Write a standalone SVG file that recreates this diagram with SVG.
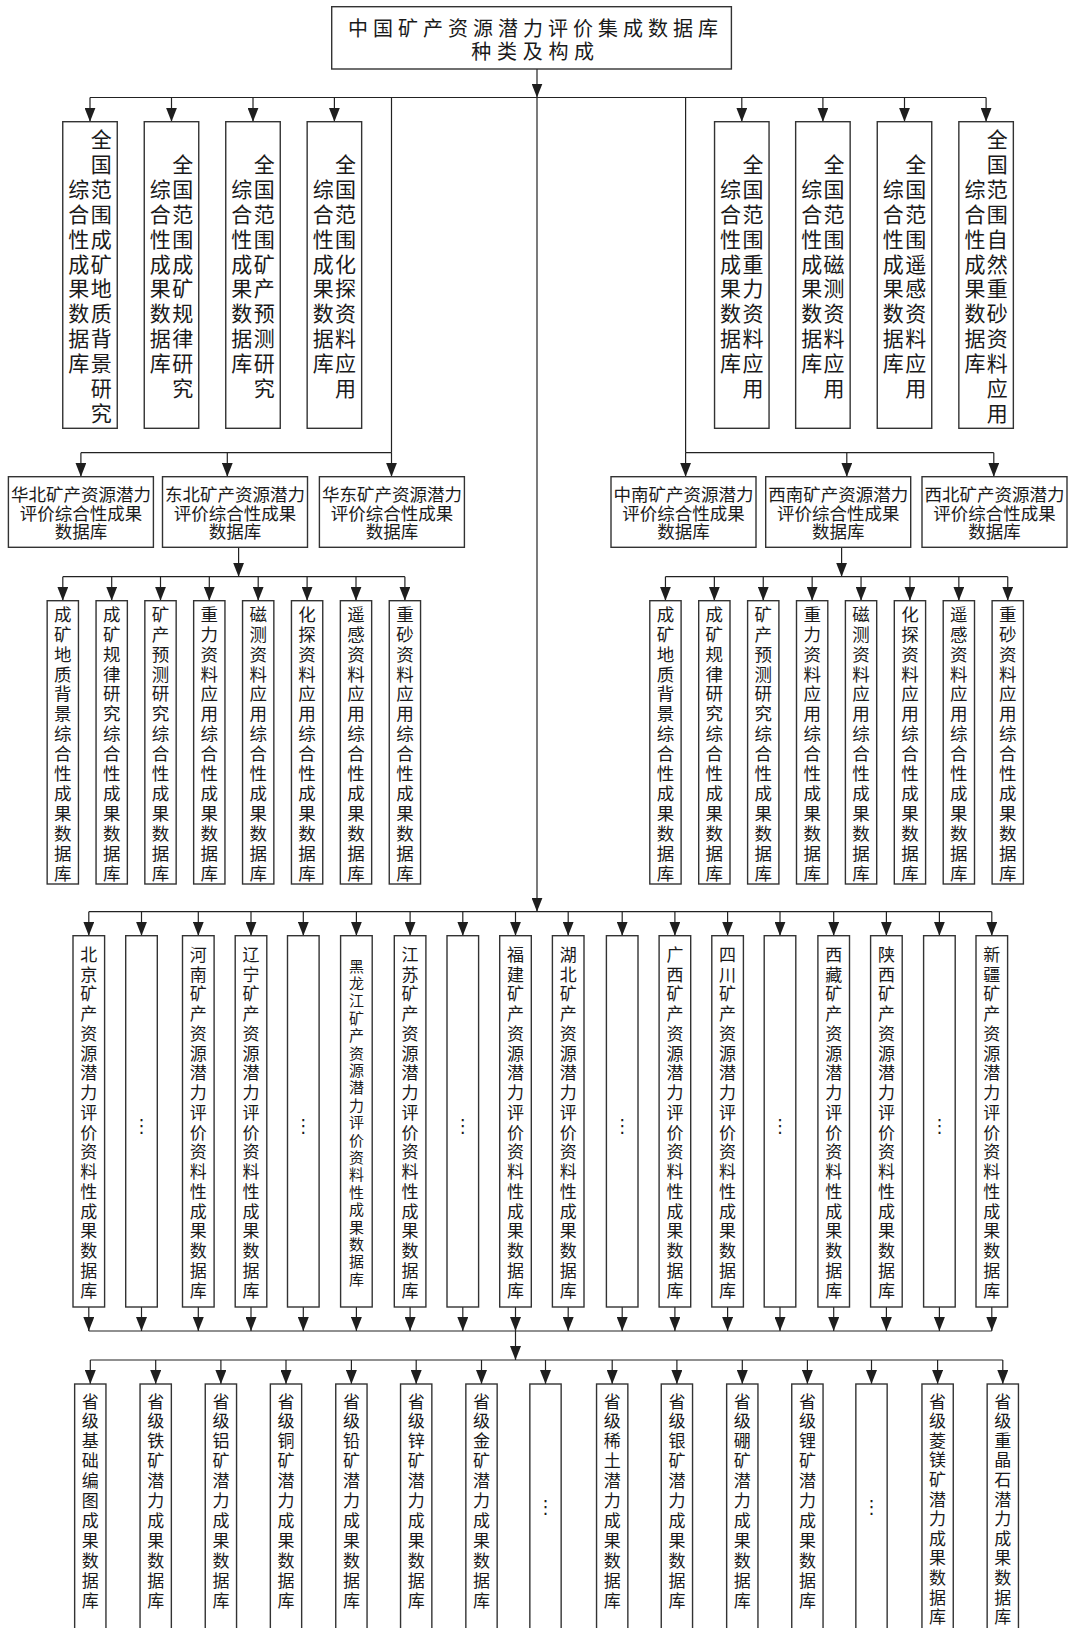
<svg xmlns="http://www.w3.org/2000/svg" width="1070" height="1628" viewBox="0 0 1070 1628">
<defs>
<marker id="ah" markerUnits="userSpaceOnUse" markerWidth="14" markerHeight="11" viewBox="0 0 14 11" refX="14" refY="5.5" orient="auto"><path d="M0,0 L14,5.5 L0,11 z" fill="#1e1e1e"/></marker>
<style>
.box{fill:#fff;stroke:#333;stroke-width:1.4}
.ln{fill:none;stroke:#222;stroke-width:1.2}
.ar{marker-end:url(#ah)}
text{font-family:"Noto Sans CJK SC","Noto Sans CJK JP",sans-serif;fill:#1a1a1a;text-anchor:middle;dominant-baseline:central}
.t0{font-size:20px}
.t1{font-size:21px}
.t2{font-size:17.5px}
.t3{font-size:17px}
.t4{font-size:15px}
.dots{font-family:"DejaVu Sans",sans-serif;font-size:18px}
</style>
</defs>
<rect width="1070" height="1628" fill="#fff"/>

<g id="connectors">
<path class="ln ar" d="M537,69V97.5"/>
<path class="ln" d="M90,97.5H986.1"/>
<path class="ln ar" d="M90,97.5V121.7"/>
<path class="ln ar" d="M171.5,97.5V121.7"/>
<path class="ln ar" d="M253,97.5V121.7"/>
<path class="ln ar" d="M334.4,97.5V121.7"/>
<path class="ln ar" d="M741.8,97.5V121.7"/>
<path class="ln ar" d="M822.9,97.5V121.7"/>
<path class="ln ar" d="M904.5,97.5V121.7"/>
<path class="ln ar" d="M986.1,97.5V121.7"/>
<path class="ln ar" d="M537,97.5V911.7"/>
<path class="ln" d="M391.5,97.5V452.7"/>
<path class="ln" d="M685.6,97.5V452.7"/>
<path class="ln" d="M80.9,452.7H391.5"/>
<path class="ln ar" d="M80.9,452.7V476.7"/>
<path class="ln ar" d="M227.3,452.7V476.7"/>
<path class="ln ar" d="M391.5,452.7V476.7"/>
<path class="ln" d="M685.6,452.7H993.8"/>
<path class="ln ar" d="M685.6,452.7V476.7"/>
<path class="ln ar" d="M846.8,452.7V476.7"/>
<path class="ln ar" d="M993.8,452.7V476.7"/>
<path class="ln ar" d="M238.6,547.3V576.7"/>
<path class="ln" d="M62.8,576.7H404.9"/>
<path class="ln ar" d="M62.8,576.7V600.7"/>
<path class="ln ar" d="M111.7,576.7V600.7"/>
<path class="ln ar" d="M160.5,576.7V600.7"/>
<path class="ln ar" d="M209.3,576.7V600.7"/>
<path class="ln ar" d="M258.2,576.7V600.7"/>
<path class="ln ar" d="M307.1,576.7V600.7"/>
<path class="ln ar" d="M356,576.7V600.7"/>
<path class="ln ar" d="M404.9,576.7V600.7"/>
<path class="ln ar" d="M841.6,547.3V576.7"/>
<path class="ln" d="M665.45,576.7H1007.75"/>
<path class="ln ar" d="M665.45,576.7V600.7"/>
<path class="ln ar" d="M714.35,576.7V600.7"/>
<path class="ln ar" d="M763.25,576.7V600.7"/>
<path class="ln ar" d="M812.15,576.7V600.7"/>
<path class="ln ar" d="M861.05,576.7V600.7"/>
<path class="ln ar" d="M909.95,576.7V600.7"/>
<path class="ln ar" d="M958.85,576.7V600.7"/>
<path class="ln ar" d="M1007.75,576.7V600.7"/>
<path class="ln" d="M88.8,911.7H991.8"/>
<path class="ln ar" d="M88.8,911.7V935.7"/>
<path class="ln ar" d="M141.5,911.7V935.7"/>
<path class="ln ar" d="M198.3,911.7V935.7"/>
<path class="ln ar" d="M251,911.7V935.7"/>
<path class="ln ar" d="M303.3,911.7V935.7"/>
<path class="ln ar" d="M356.4,911.7V935.7"/>
<path class="ln ar" d="M410.1,911.7V935.7"/>
<path class="ln ar" d="M462.8,911.7V935.7"/>
<path class="ln ar" d="M515.5,911.7V935.7"/>
<path class="ln ar" d="M568.2,911.7V935.7"/>
<path class="ln ar" d="M622.2,911.7V935.7"/>
<path class="ln ar" d="M674.9,911.7V935.7"/>
<path class="ln ar" d="M727.6,911.7V935.7"/>
<path class="ln ar" d="M780,911.7V935.7"/>
<path class="ln ar" d="M833.7,911.7V935.7"/>
<path class="ln ar" d="M886.4,911.7V935.7"/>
<path class="ln ar" d="M939.4,911.7V935.7"/>
<path class="ln ar" d="M991.8,911.7V935.7"/>
<path class="ln ar" d="M88.8,1307V1331"/>
<path class="ln ar" d="M141.5,1307V1331"/>
<path class="ln ar" d="M198.3,1307V1331"/>
<path class="ln ar" d="M251,1307V1331"/>
<path class="ln ar" d="M303.3,1307V1331"/>
<path class="ln ar" d="M356.4,1307V1331"/>
<path class="ln ar" d="M410.1,1307V1331"/>
<path class="ln ar" d="M462.8,1307V1331"/>
<path class="ln ar" d="M515.5,1307V1331"/>
<path class="ln ar" d="M568.2,1307V1331"/>
<path class="ln ar" d="M622.2,1307V1331"/>
<path class="ln ar" d="M674.9,1307V1331"/>
<path class="ln ar" d="M727.6,1307V1331"/>
<path class="ln ar" d="M780,1307V1331"/>
<path class="ln ar" d="M833.7,1307V1331"/>
<path class="ln ar" d="M886.4,1307V1331"/>
<path class="ln ar" d="M939.4,1307V1331"/>
<path class="ln ar" d="M991.8,1307V1331"/>
<path class="ln" d="M88.8,1331H991.8"/>
<path class="ln ar" d="M515.5,1331V1360"/>
<path class="ln" d="M90.3,1360H1002.8"/>
<path class="ln ar" d="M90.3,1360V1384"/>
<path class="ln ar" d="M155.7,1360V1384"/>
<path class="ln ar" d="M220.9,1360V1384"/>
<path class="ln ar" d="M286,1360V1384"/>
<path class="ln ar" d="M351.4,1360V1384"/>
<path class="ln ar" d="M416.2,1360V1384"/>
<path class="ln ar" d="M481.5,1360V1384"/>
<path class="ln ar" d="M545.5,1360V1384"/>
<path class="ln ar" d="M612.2,1360V1384"/>
<path class="ln ar" d="M676.9,1360V1384"/>
<path class="ln ar" d="M742.3,1360V1384"/>
<path class="ln ar" d="M807.4,1360V1384"/>
<path class="ln ar" d="M871.5,1360V1384"/>
<path class="ln ar" d="M937.6,1360V1384"/>
<path class="ln ar" d="M1002.8,1360V1384"/>
</g>

<g id="n-title">
<rect class="box" x="331.7" y="6.7" width="399.7" height="62.3"/>
<text class="t0"><tspan x="358 383 408 433 458 483 508 533 558 583 608 633 658 683 708" y="26.7">中国矿产资源潜力评价集成数据库</tspan><tspan x="481.3 507 532.7 558.4 584.1" y="50">种类及构成</tspan></text>
</g>

<g id="n-l1">
<rect class="box" x="62.75" y="121.7" width="54.5" height="306.6"/>
<text class="t1" x="101.2 101.2 101.2 101.2 101.2 101.2 101.2 101.2 101.2 101.2 101.2 101.2" y="138 163 187.9 212.8 237.7 262.6 287.4 312.4 337.3 362.2 387.1 412">全国范围成矿地质背景研究</text>
<text class="t1" x="78.8 78.8 78.8 78.8 78.8 78.8 78.8 78.8" y="187.9 212.8 237.7 262.6 287.4 312.4 337.3 362.2">综合性成果数据库</text>
</g>
<g id="n-l2">
<rect class="box" x="144.25" y="121.7" width="54.5" height="306.6"/>
<text class="t1" x="182.7 182.7 182.7 182.7 182.7 182.7 182.7 182.7 182.7 182.7" y="163 187.9 212.8 237.7 262.6 287.4 312.4 337.3 362.2 387.1">全国范围成矿规律研究</text>
<text class="t1" x="160.3 160.3 160.3 160.3 160.3 160.3 160.3 160.3" y="187.9 212.8 237.7 262.6 287.4 312.4 337.3 362.2">综合性成果数据库</text>
</g>
<g id="n-l3">
<rect class="box" x="225.75" y="121.7" width="54.5" height="306.6"/>
<text class="t1" x="264.2 264.2 264.2 264.2 264.2 264.2 264.2 264.2 264.2 264.2" y="163 187.9 212.8 237.7 262.6 287.4 312.4 337.3 362.2 387.1">全国范围矿产预测研究</text>
<text class="t1" x="241.8 241.8 241.8 241.8 241.8 241.8 241.8 241.8" y="187.9 212.8 237.7 262.6 287.4 312.4 337.3 362.2">综合性成果数据库</text>
</g>
<g id="n-l4">
<rect class="box" x="307.15" y="121.7" width="54.5" height="306.6"/>
<text class="t1" x="345.6 345.6 345.6 345.6 345.6 345.6 345.6 345.6 345.6 345.6" y="163 187.9 212.8 237.7 262.6 287.4 312.4 337.3 362.2 387.1">全国范围化探资料应用</text>
<text class="t1" x="323.2 323.2 323.2 323.2 323.2 323.2 323.2 323.2" y="187.9 212.8 237.7 262.6 287.4 312.4 337.3 362.2">综合性成果数据库</text>
</g>
<g id="n-r1">
<rect class="box" x="714.55" y="121.7" width="54.5" height="306.6"/>
<text class="t1" x="753 753 753 753 753 753 753 753 753 753" y="163 187.9 212.8 237.7 262.6 287.4 312.4 337.3 362.2 387.1">全国范围重力资料应用</text>
<text class="t1" x="730.6 730.6 730.6 730.6 730.6 730.6 730.6 730.6" y="187.9 212.8 237.7 262.6 287.4 312.4 337.3 362.2">综合性成果数据库</text>
</g>
<g id="n-r2">
<rect class="box" x="795.65" y="121.7" width="54.5" height="306.6"/>
<text class="t1" x="834.1 834.1 834.1 834.1 834.1 834.1 834.1 834.1 834.1 834.1" y="163 187.9 212.8 237.7 262.6 287.4 312.4 337.3 362.2 387.1">全国范围磁测资料应用</text>
<text class="t1" x="811.7 811.7 811.7 811.7 811.7 811.7 811.7 811.7" y="187.9 212.8 237.7 262.6 287.4 312.4 337.3 362.2">综合性成果数据库</text>
</g>
<g id="n-r3">
<rect class="box" x="877.25" y="121.7" width="54.5" height="306.6"/>
<text class="t1" x="915.7 915.7 915.7 915.7 915.7 915.7 915.7 915.7 915.7 915.7" y="163 187.9 212.8 237.7 262.6 287.4 312.4 337.3 362.2 387.1">全国范围遥感资料应用</text>
<text class="t1" x="893.3 893.3 893.3 893.3 893.3 893.3 893.3 893.3" y="187.9 212.8 237.7 262.6 287.4 312.4 337.3 362.2">综合性成果数据库</text>
</g>
<g id="n-r4">
<rect class="box" x="958.85" y="121.7" width="54.5" height="306.6"/>
<text class="t1" x="997.3 997.3 997.3 997.3 997.3 997.3 997.3 997.3 997.3 997.3 997.3 997.3" y="138 163 187.9 212.8 237.7 262.6 287.4 312.4 337.3 362.2 387.1 412">全国范围自然重砂资料应用</text>
<text class="t1" x="974.9 974.9 974.9 974.9 974.9 974.9 974.9 974.9" y="187.9 212.8 237.7 262.6 287.4 312.4 337.3 362.2">综合性成果数据库</text>
</g>

<g id="n-huabei">
<rect class="box" x="8.4" y="476.7" width="145" height="70.6"/>
<text class="t2"><tspan x="80.9" y="493.3">华北矿产资源潜力</tspan><tspan x="80.9" y="511.7">评价综合性成果</tspan><tspan x="80.9" y="530">数据库</tspan></text>
</g>
<g id="n-dongbei">
<rect class="box" x="162.5" y="476.7" width="145" height="70.6"/>
<text class="t2"><tspan x="235" y="493.3">东北矿产资源潜力</tspan><tspan x="235" y="511.7">评价综合性成果</tspan><tspan x="235" y="530">数据库</tspan></text>
</g>
<g id="n-huadong">
<rect class="box" x="319.4" y="476.7" width="145" height="70.6"/>
<text class="t2"><tspan x="391.9" y="493.3">华东矿产资源潜力</tspan><tspan x="391.9" y="511.7">评价综合性成果</tspan><tspan x="391.9" y="530">数据库</tspan></text>
</g>
<g id="n-zhongnan">
<rect class="box" x="611" y="476.7" width="145" height="70.6"/>
<text class="t2"><tspan x="683.5" y="493.3">中南矿产资源潜力</tspan><tspan x="683.5" y="511.7">评价综合性成果</tspan><tspan x="683.5" y="530">数据库</tspan></text>
</g>
<g id="n-xinan">
<rect class="box" x="765.7" y="476.7" width="145" height="70.6"/>
<text class="t2"><tspan x="838.2" y="493.3">西南矿产资源潜力</tspan><tspan x="838.2" y="511.7">评价综合性成果</tspan><tspan x="838.2" y="530">数据库</tspan></text>
</g>
<g id="n-xibei">
<rect class="box" x="922" y="476.7" width="145" height="70.6"/>
<text class="t2"><tspan x="994.5" y="493.3">西北矿产资源潜力</tspan><tspan x="994.5" y="511.7">评价综合性成果</tspan><tspan x="994.5" y="530">数据库</tspan></text>
</g>

<g id="n-db1"><rect class="box" x="47.15" y="600.7" width="31.3" height="283.3"/><text class="t2" x="62.8 62.8 62.8 62.8 62.8 62.8 62.8 62.8 62.8 62.8 62.8 62.8 62.8 62.8" y="613.3 633.2 653.1 673 692.9 712.8 732.7 752.6 772.5 792.4 812.3 832.2 852.1 872">成矿地质背景综合性成果数据库</text></g>
<g id="n-db2"><rect class="box" x="96.05" y="600.7" width="31.3" height="283.3"/><text class="t2" x="111.7 111.7 111.7 111.7 111.7 111.7 111.7 111.7 111.7 111.7 111.7 111.7 111.7 111.7" y="613.3 633.2 653.1 673 692.9 712.8 732.7 752.6 772.5 792.4 812.3 832.2 852.1 872">成矿规律研究综合性成果数据库</text></g>
<g id="n-db3"><rect class="box" x="144.85" y="600.7" width="31.3" height="283.3"/><text class="t2" x="160.5 160.5 160.5 160.5 160.5 160.5 160.5 160.5 160.5 160.5 160.5 160.5 160.5 160.5" y="613.3 633.2 653.1 673 692.9 712.8 732.7 752.6 772.5 792.4 812.3 832.2 852.1 872">矿产预测研究综合性成果数据库</text></g>
<g id="n-db4"><rect class="box" x="193.65" y="600.7" width="31.3" height="283.3"/><text class="t2" x="209.3 209.3 209.3 209.3 209.3 209.3 209.3 209.3 209.3 209.3 209.3 209.3 209.3 209.3" y="613.3 633.2 653.1 673 692.9 712.8 732.7 752.6 772.5 792.4 812.3 832.2 852.1 872">重力资料应用综合性成果数据库</text></g>
<g id="n-db5"><rect class="box" x="242.55" y="600.7" width="31.3" height="283.3"/><text class="t2" x="258.2 258.2 258.2 258.2 258.2 258.2 258.2 258.2 258.2 258.2 258.2 258.2 258.2 258.2" y="613.3 633.2 653.1 673 692.9 712.8 732.7 752.6 772.5 792.4 812.3 832.2 852.1 872">磁测资料应用综合性成果数据库</text></g>
<g id="n-db6"><rect class="box" x="291.45" y="600.7" width="31.3" height="283.3"/><text class="t2" x="307.1 307.1 307.1 307.1 307.1 307.1 307.1 307.1 307.1 307.1 307.1 307.1 307.1 307.1" y="613.3 633.2 653.1 673 692.9 712.8 732.7 752.6 772.5 792.4 812.3 832.2 852.1 872">化探资料应用综合性成果数据库</text></g>
<g id="n-db7"><rect class="box" x="340.35" y="600.7" width="31.3" height="283.3"/><text class="t2" x="356 356 356 356 356 356 356 356 356 356 356 356 356 356" y="613.3 633.2 653.1 673 692.9 712.8 732.7 752.6 772.5 792.4 812.3 832.2 852.1 872">遥感资料应用综合性成果数据库</text></g>
<g id="n-db8"><rect class="box" x="389.25" y="600.7" width="31.3" height="283.3"/><text class="t2" x="404.9 404.9 404.9 404.9 404.9 404.9 404.9 404.9 404.9 404.9 404.9 404.9 404.9 404.9" y="613.3 633.2 653.1 673 692.9 712.8 732.7 752.6 772.5 792.4 812.3 832.2 852.1 872">重砂资料应用综合性成果数据库</text></g>

<g id="n-xn1"><rect class="box" x="649.8" y="600.7" width="31.3" height="283.3"/><text class="t2" x="665.45 665.45 665.45 665.45 665.45 665.45 665.45 665.45 665.45 665.45 665.45 665.45 665.45 665.45" y="613.3 633.2 653.1 673 692.9 712.8 732.7 752.6 772.5 792.4 812.3 832.2 852.1 872">成矿地质背景综合性成果数据库</text></g>
<g id="n-xn2"><rect class="box" x="698.7" y="600.7" width="31.3" height="283.3"/><text class="t2" x="714.35 714.35 714.35 714.35 714.35 714.35 714.35 714.35 714.35 714.35 714.35 714.35 714.35 714.35" y="613.3 633.2 653.1 673 692.9 712.8 732.7 752.6 772.5 792.4 812.3 832.2 852.1 872">成矿规律研究综合性成果数据库</text></g>
<g id="n-xn3"><rect class="box" x="747.6" y="600.7" width="31.3" height="283.3"/><text class="t2" x="763.25 763.25 763.25 763.25 763.25 763.25 763.25 763.25 763.25 763.25 763.25 763.25 763.25 763.25" y="613.3 633.2 653.1 673 692.9 712.8 732.7 752.6 772.5 792.4 812.3 832.2 852.1 872">矿产预测研究综合性成果数据库</text></g>
<g id="n-xn4"><rect class="box" x="796.5" y="600.7" width="31.3" height="283.3"/><text class="t2" x="812.15 812.15 812.15 812.15 812.15 812.15 812.15 812.15 812.15 812.15 812.15 812.15 812.15 812.15" y="613.3 633.2 653.1 673 692.9 712.8 732.7 752.6 772.5 792.4 812.3 832.2 852.1 872">重力资料应用综合性成果数据库</text></g>
<g id="n-xn5"><rect class="box" x="845.4" y="600.7" width="31.3" height="283.3"/><text class="t2" x="861.05 861.05 861.05 861.05 861.05 861.05 861.05 861.05 861.05 861.05 861.05 861.05 861.05 861.05" y="613.3 633.2 653.1 673 692.9 712.8 732.7 752.6 772.5 792.4 812.3 832.2 852.1 872">磁测资料应用综合性成果数据库</text></g>
<g id="n-xn6"><rect class="box" x="894.3" y="600.7" width="31.3" height="283.3"/><text class="t2" x="909.95 909.95 909.95 909.95 909.95 909.95 909.95 909.95 909.95 909.95 909.95 909.95 909.95 909.95" y="613.3 633.2 653.1 673 692.9 712.8 732.7 752.6 772.5 792.4 812.3 832.2 852.1 872">化探资料应用综合性成果数据库</text></g>
<g id="n-xn7"><rect class="box" x="943.2" y="600.7" width="31.3" height="283.3"/><text class="t2" x="958.85 958.85 958.85 958.85 958.85 958.85 958.85 958.85 958.85 958.85 958.85 958.85 958.85 958.85" y="613.3 633.2 653.1 673 692.9 712.8 732.7 752.6 772.5 792.4 812.3 832.2 852.1 872">遥感资料应用综合性成果数据库</text></g>
<g id="n-xn8"><rect class="box" x="992.1" y="600.7" width="31.3" height="283.3"/><text class="t2" x="1007.75 1007.75 1007.75 1007.75 1007.75 1007.75 1007.75 1007.75 1007.75 1007.75 1007.75 1007.75 1007.75 1007.75" y="613.3 633.2 653.1 673 692.9 712.8 732.7 752.6 772.5 792.4 812.3 832.2 852.1 872">重砂资料应用综合性成果数据库</text></g>

<g id="n-p1"><rect class="box" x="73" y="935.7" width="31.6" height="371.3"/><text class="t3" x="88.8 88.8 88.8 88.8 88.8 88.8 88.8 88.8 88.8 88.8 88.8 88.8 88.8 88.8 88.8 88.8 88.8 88.8" y="953.3 973.1 992.8 1012.6 1032.3 1052.1 1071.9 1091.6 1111.4 1131.1 1150.9 1170.7 1190.4 1210.2 1229.9 1249.7 1269.5 1289.2">北京矿产资源潜力评价资料性成果数据库</text></g>
<g id="n-p2"><rect class="box" x="125.7" y="935.7" width="31.6" height="371.3"/><text class="dots" x="141.5" y="1125">⋮</text></g>
<g id="n-p3"><rect class="box" x="182.5" y="935.7" width="31.6" height="371.3"/><text class="t3" x="198.3 198.3 198.3 198.3 198.3 198.3 198.3 198.3 198.3 198.3 198.3 198.3 198.3 198.3 198.3 198.3 198.3 198.3" y="953.3 973.1 992.8 1012.6 1032.3 1052.1 1071.9 1091.6 1111.4 1131.1 1150.9 1170.7 1190.4 1210.2 1229.9 1249.7 1269.5 1289.2">河南矿产资源潜力评价资料性成果数据库</text></g>
<g id="n-p4"><rect class="box" x="235.2" y="935.7" width="31.6" height="371.3"/><text class="t3" x="251 251 251 251 251 251 251 251 251 251 251 251 251 251 251 251 251 251" y="953.3 973.1 992.8 1012.6 1032.3 1052.1 1071.9 1091.6 1111.4 1131.1 1150.9 1170.7 1190.4 1210.2 1229.9 1249.7 1269.5 1289.2">辽宁矿产资源潜力评价资料性成果数据库</text></g>
<g id="n-p5"><rect class="box" x="287.5" y="935.7" width="31.6" height="371.3"/><text class="dots" x="303.3" y="1125">⋮</text></g>
<g id="n-p6"><rect class="box" x="340.6" y="935.7" width="31.6" height="371.3"/><text class="t4" x="356.4 356.4 356.4 356.4 356.4 356.4 356.4 356.4 356.4 356.4 356.4 356.4 356.4 356.4 356.4 356.4 356.4 356.4 356.4" y="965 982.4 999.8 1017.2 1034.6 1052 1069.4 1086.8 1104.2 1121.6 1139 1156.4 1173.8 1191.2 1208.6 1226 1243.4 1260.8 1278.2">黑龙江矿产资源潜力评价资料性成果数据库</text></g>
<g id="n-p7"><rect class="box" x="394.3" y="935.7" width="31.6" height="371.3"/><text class="t3" x="410.1 410.1 410.1 410.1 410.1 410.1 410.1 410.1 410.1 410.1 410.1 410.1 410.1 410.1 410.1 410.1 410.1 410.1" y="953.3 973.1 992.8 1012.6 1032.3 1052.1 1071.9 1091.6 1111.4 1131.1 1150.9 1170.7 1190.4 1210.2 1229.9 1249.7 1269.5 1289.2">江苏矿产资源潜力评价资料性成果数据库</text></g>
<g id="n-p8"><rect class="box" x="447" y="935.7" width="31.6" height="371.3"/><text class="dots" x="462.8" y="1125">⋮</text></g>
<g id="n-p9"><rect class="box" x="499.7" y="935.7" width="31.6" height="371.3"/><text class="t3" x="515.5 515.5 515.5 515.5 515.5 515.5 515.5 515.5 515.5 515.5 515.5 515.5 515.5 515.5 515.5 515.5 515.5 515.5" y="953.3 973.1 992.8 1012.6 1032.3 1052.1 1071.9 1091.6 1111.4 1131.1 1150.9 1170.7 1190.4 1210.2 1229.9 1249.7 1269.5 1289.2">福建矿产资源潜力评价资料性成果数据库</text></g>
<g id="n-p10"><rect class="box" x="552.4" y="935.7" width="31.6" height="371.3"/><text class="t3" x="568.2 568.2 568.2 568.2 568.2 568.2 568.2 568.2 568.2 568.2 568.2 568.2 568.2 568.2 568.2 568.2 568.2 568.2" y="953.3 973.1 992.8 1012.6 1032.3 1052.1 1071.9 1091.6 1111.4 1131.1 1150.9 1170.7 1190.4 1210.2 1229.9 1249.7 1269.5 1289.2">湖北矿产资源潜力评价资料性成果数据库</text></g>
<g id="n-p11"><rect class="box" x="606.4" y="935.7" width="31.6" height="371.3"/><text class="dots" x="622.2" y="1125">⋮</text></g>
<g id="n-p12"><rect class="box" x="659.1" y="935.7" width="31.6" height="371.3"/><text class="t3" x="674.9 674.9 674.9 674.9 674.9 674.9 674.9 674.9 674.9 674.9 674.9 674.9 674.9 674.9 674.9 674.9 674.9 674.9" y="953.3 973.1 992.8 1012.6 1032.3 1052.1 1071.9 1091.6 1111.4 1131.1 1150.9 1170.7 1190.4 1210.2 1229.9 1249.7 1269.5 1289.2">广西矿产资源潜力评价资料性成果数据库</text></g>
<g id="n-p13"><rect class="box" x="711.8" y="935.7" width="31.6" height="371.3"/><text class="t3" x="727.6 727.6 727.6 727.6 727.6 727.6 727.6 727.6 727.6 727.6 727.6 727.6 727.6 727.6 727.6 727.6 727.6 727.6" y="953.3 973.1 992.8 1012.6 1032.3 1052.1 1071.9 1091.6 1111.4 1131.1 1150.9 1170.7 1190.4 1210.2 1229.9 1249.7 1269.5 1289.2">四川矿产资源潜力评价资料性成果数据库</text></g>
<g id="n-p14"><rect class="box" x="764.2" y="935.7" width="31.6" height="371.3"/><text class="dots" x="780" y="1125">⋮</text></g>
<g id="n-p15"><rect class="box" x="817.9" y="935.7" width="31.6" height="371.3"/><text class="t3" x="833.7 833.7 833.7 833.7 833.7 833.7 833.7 833.7 833.7 833.7 833.7 833.7 833.7 833.7 833.7 833.7 833.7 833.7" y="953.3 973.1 992.8 1012.6 1032.3 1052.1 1071.9 1091.6 1111.4 1131.1 1150.9 1170.7 1190.4 1210.2 1229.9 1249.7 1269.5 1289.2">西藏矿产资源潜力评价资料性成果数据库</text></g>
<g id="n-p16"><rect class="box" x="870.6" y="935.7" width="31.6" height="371.3"/><text class="t3" x="886.4 886.4 886.4 886.4 886.4 886.4 886.4 886.4 886.4 886.4 886.4 886.4 886.4 886.4 886.4 886.4 886.4 886.4" y="953.3 973.1 992.8 1012.6 1032.3 1052.1 1071.9 1091.6 1111.4 1131.1 1150.9 1170.7 1190.4 1210.2 1229.9 1249.7 1269.5 1289.2">陕西矿产资源潜力评价资料性成果数据库</text></g>
<g id="n-p17"><rect class="box" x="923.6" y="935.7" width="31.6" height="371.3"/><text class="dots" x="939.4" y="1125">⋮</text></g>
<g id="n-p18"><rect class="box" x="976" y="935.7" width="31.6" height="371.3"/><text class="t3" x="991.8 991.8 991.8 991.8 991.8 991.8 991.8 991.8 991.8 991.8 991.8 991.8 991.8 991.8 991.8 991.8 991.8 991.8" y="953.3 973.1 992.8 1012.6 1032.3 1052.1 1071.9 1091.6 1111.4 1131.1 1150.9 1170.7 1190.4 1210.2 1229.9 1249.7 1269.5 1289.2">新疆矿产资源潜力评价资料性成果数据库</text></g>

<g id="n-s1"><rect class="box" x="74.65" y="1384" width="31.3" height="260"/><text class="t3" x="90.3 90.3 90.3 90.3 90.3 90.3 90.3 90.3 90.3 90.3 90.3" y="1400 1419.9 1439.8 1459.7 1479.6 1499.5 1519.4 1539.3 1559.2 1579.1 1599">省级基础编图成果数据库</text></g>
<g id="n-s2"><rect class="box" x="140.05" y="1384" width="31.3" height="260"/><text class="t3" x="155.7 155.7 155.7 155.7 155.7 155.7 155.7 155.7 155.7 155.7 155.7" y="1400 1419.9 1439.8 1459.7 1479.6 1499.5 1519.4 1539.3 1559.2 1579.1 1599">省级铁矿潜力成果数据库</text></g>
<g id="n-s3"><rect class="box" x="205.25" y="1384" width="31.3" height="260"/><text class="t3" x="220.9 220.9 220.9 220.9 220.9 220.9 220.9 220.9 220.9 220.9 220.9" y="1400 1419.9 1439.8 1459.7 1479.6 1499.5 1519.4 1539.3 1559.2 1579.1 1599">省级铝矿潜力成果数据库</text></g>
<g id="n-s4"><rect class="box" x="270.35" y="1384" width="31.3" height="260"/><text class="t3" x="286 286 286 286 286 286 286 286 286 286 286" y="1400 1419.9 1439.8 1459.7 1479.6 1499.5 1519.4 1539.3 1559.2 1579.1 1599">省级铜矿潜力成果数据库</text></g>
<g id="n-s5"><rect class="box" x="335.75" y="1384" width="31.3" height="260"/><text class="t3" x="351.4 351.4 351.4 351.4 351.4 351.4 351.4 351.4 351.4 351.4 351.4" y="1400 1419.9 1439.8 1459.7 1479.6 1499.5 1519.4 1539.3 1559.2 1579.1 1599">省级铅矿潜力成果数据库</text></g>
<g id="n-s6"><rect class="box" x="400.55" y="1384" width="31.3" height="260"/><text class="t3" x="416.2 416.2 416.2 416.2 416.2 416.2 416.2 416.2 416.2 416.2 416.2" y="1400 1419.9 1439.8 1459.7 1479.6 1499.5 1519.4 1539.3 1559.2 1579.1 1599">省级锌矿潜力成果数据库</text></g>
<g id="n-s7"><rect class="box" x="465.85" y="1384" width="31.3" height="260"/><text class="t3" x="481.5 481.5 481.5 481.5 481.5 481.5 481.5 481.5 481.5 481.5 481.5" y="1400 1419.9 1439.8 1459.7 1479.6 1499.5 1519.4 1539.3 1559.2 1579.1 1599">省级金矿潜力成果数据库</text></g>
<g id="n-s8"><rect class="box" x="529.85" y="1384" width="31.3" height="260"/><text class="dots" x="545.5" y="1506.7">⋮</text></g>
<g id="n-s9"><rect class="box" x="596.55" y="1384" width="31.3" height="260"/><text class="t3" x="612.2 612.2 612.2 612.2 612.2 612.2 612.2 612.2 612.2 612.2 612.2" y="1400 1419.9 1439.8 1459.7 1479.6 1499.5 1519.4 1539.3 1559.2 1579.1 1599">省级稀土潜力成果数据库</text></g>
<g id="n-s10"><rect class="box" x="661.25" y="1384" width="31.3" height="260"/><text class="t3" x="676.9 676.9 676.9 676.9 676.9 676.9 676.9 676.9 676.9 676.9 676.9" y="1400 1419.9 1439.8 1459.7 1479.6 1499.5 1519.4 1539.3 1559.2 1579.1 1599">省级银矿潜力成果数据库</text></g>
<g id="n-s11"><rect class="box" x="726.65" y="1384" width="31.3" height="260"/><text class="t3" x="742.3 742.3 742.3 742.3 742.3 742.3 742.3 742.3 742.3 742.3 742.3" y="1400 1419.9 1439.8 1459.7 1479.6 1499.5 1519.4 1539.3 1559.2 1579.1 1599">省级硼矿潜力成果数据库</text></g>
<g id="n-s12"><rect class="box" x="791.75" y="1384" width="31.3" height="260"/><text class="t3" x="807.4 807.4 807.4 807.4 807.4 807.4 807.4 807.4 807.4 807.4 807.4" y="1400 1419.9 1439.8 1459.7 1479.6 1499.5 1519.4 1539.3 1559.2 1579.1 1599">省级锂矿潜力成果数据库</text></g>
<g id="n-s13"><rect class="box" x="855.85" y="1384" width="31.3" height="260"/><text class="dots" x="871.5" y="1506.7">⋮</text></g>
<g id="n-s14"><rect class="box" x="921.95" y="1384" width="31.3" height="260"/><text class="t3" x="937.6 937.6 937.6 937.6 937.6 937.6 937.6 937.6 937.6 937.6 937.6 937.6" y="1400 1419.6 1439.2 1458.8 1478.4 1498 1517.6 1537.2 1556.8 1576.4 1596 1615.6">省级菱镁矿潜力成果数据库</text></g>
<g id="n-s15"><rect class="box" x="987.15" y="1384" width="31.3" height="260"/><text class="t3" x="1002.8 1002.8 1002.8 1002.8 1002.8 1002.8 1002.8 1002.8 1002.8 1002.8 1002.8 1002.8" y="1400 1419.6 1439.2 1458.8 1478.4 1498 1517.6 1537.2 1556.8 1576.4 1596 1615.6">省级重晶石潜力成果数据库</text></g>
</svg>
